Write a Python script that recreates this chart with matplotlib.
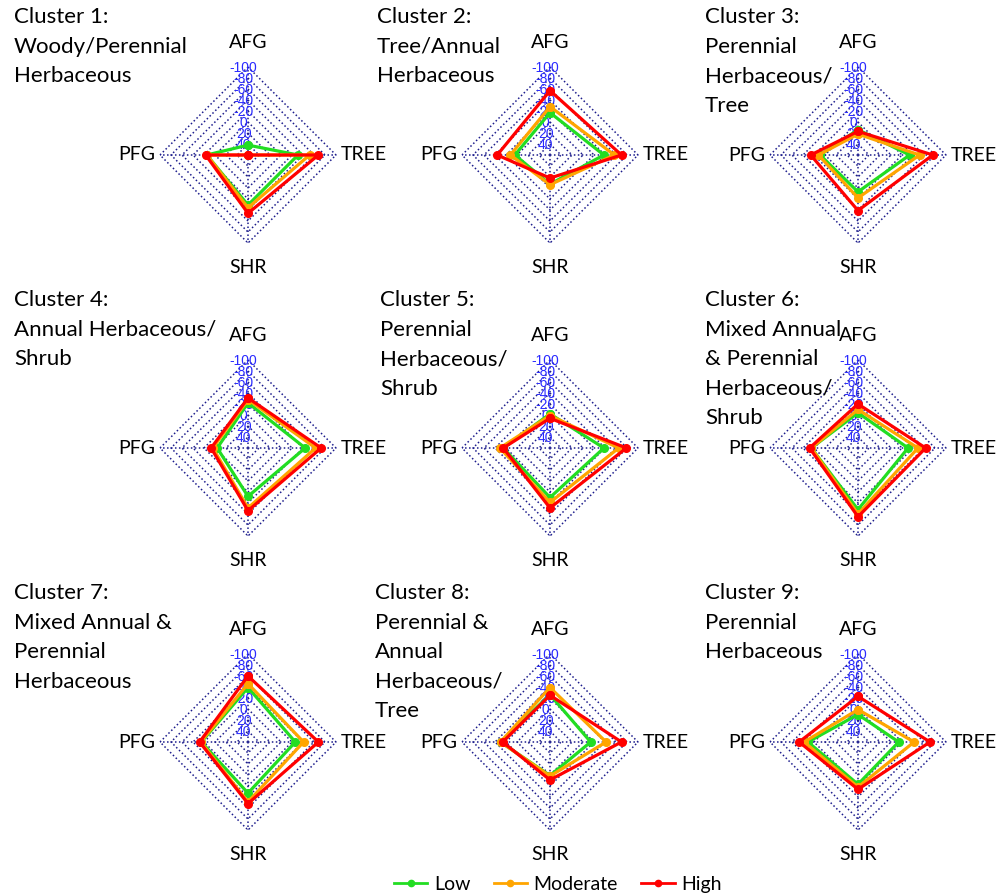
import numpy as np
import matplotlib.pyplot as plt
from matplotlib.lines import Line2D

# ---------------- data ----------------
axis_names = ["AFG", "TREE", "SHR", "PFG"]
tick_values = [40, 20, 0, -20, -40, -60, -80, -100]
tick_labels = ["40", "20", "0", "-20", "-40", "-60", "-80", "-100"]
center_value = 60      # value at the centre of each radar
outer_value = -100     # value at the outer ring

titles = [
    "Cluster 1:\nWoody/Perennial\nHerbaceous",
    "Cluster 2:\nTree/Annual\nHerbaceous",
    "Cluster 3:\nPerennial\nHerbaceous/\nTree",
    "Cluster 4:\nAnnual Herbaceous/\nShrub",
    "Cluster 5:\nPerennial\nHerbaceous/\nShrub",
    "Cluster 6:\nMixed Annual\n& Perennial\nHerbaceous/\nShrub",
    "Cluster 7:\nMixed Annual &\nPerennial\nHerbaceous",
    "Cluster 8:\nPerennial &\nAnnual\nHerbaceous/\nTree",
    "Cluster 9:\nPerennial\nHerbaceous",
]

# values per cluster, order: AFG, TREE, SHR, PFG
low = [
    [42, -31, -31, -15],
    [-17, -38, 7, -4],
    [14, -34, -7, -9],
    [-22, -44, -28, 4],
    [-2, -38, -30, -25],
    [-4, -31, -52, -25],
    [-39, -26, -33, -25],
    [-26, -14, -1, -30],
    [10, -14, -17, -31],
]
moderate = [
    [60, -52, -36, -15],
    [-28, -57, 6, -12],
    [22, -52, -18, -12],
    [-28, -63, -49, -4],
    [1, -65, -39, -31],
    [-10, -49, -60, -25],
    [-46, -41, -49, -26],
    [-39, -42, -2, -30],
    [1, -42, -22, -38],
]
high = [
    [60, -68, -46, -17],
    [-57, -70, 18, -36],
    [17, -76, -41, -26],
    [-31, -73, -54, -7],
    [6, -79, -49, -25],
    [-20, -63, -65, -28],
    [-60, -68, -52, -28],
    [-25, -70, -9, -26],
    [-23, -71, -26, -47],
]
series_names = ["Low", "Moderate", "High"]
series_values = [low, moderate, high]
series_colors = ["#22dd22", "#ffa500", "#ff0000"]

# ---------------- layout ----------------
W, H = 997, 896
fig = plt.figure(figsize=(W / 100, H / 100), dpi=100)
fig.patch.set_facecolor("white")

col_x = [248, 550, 858]
row_y = [155, 448, 742]
R = 88
S = 2.9 * R
title_pos = [(14, 7), (377, 7), (705, 7),
             (14, 290), (380, 290), (705, 290),
             (14, 583), (375, 583), (705, 583)]

angles = np.deg2rad([90, 0, -90, 180])
grid_col = "#1c1c8c"
title_font = "Lato"


def to_r(v):
    v = np.asarray(v, dtype=float)
    return (center_value - v) / (center_value - outer_value)


for idx in range(9):
    cx = col_x[idx % 3]
    cy = row_y[idx // 3]
    ax = fig.add_axes([(cx - S / 2) / W, 1 - (cy + S / 2) / H, S / W, S / H])
    ax.set_xlim(-1.45, 1.45)
    ax.set_ylim(-1.45, 1.45)
    ax.set_aspect("equal")
    ax.axis("off")

    # grid rings
    for tv in tick_values:
        rr = to_r(tv)
        xs = rr * np.cos(np.append(angles, angles[0]))
        ys = rr * np.sin(np.append(angles, angles[0]))
        ax.plot(xs, ys, color=grid_col, lw=1.1, ls=(0, (1, 1.6)), zorder=1)
    # spokes
    for a in angles:
        ax.plot([0, np.cos(a)], [0, np.sin(a)], color=grid_col, lw=1.1,
                ls=(0, (1, 1.6)), zorder=1)
    # tick labels
    for tv, tl in zip(tick_values, tick_labels):
        ax.text(-0.05, to_r(tv) - 0.015, tl, color="#2a2aff", fontsize=10,
                family="Liberation Sans", ha="center", va="center", zorder=2)

    # series
    for vals, col in zip(series_values, series_colors):
        rr = to_r(vals[idx])
        xs = rr * np.cos(angles)
        ys = rr * np.sin(angles)
        ax.plot(np.append(xs, xs[0]), np.append(ys, ys[0]), color=col,
                lw=2.3, marker="o", ms=5.5, zorder=3)

    # axis names
    fs_ax = 14
    ax.text(0, 1.28, axis_names[0], ha="center", va="center", fontsize=fs_ax,
            family=title_font)
    ax.text(1.05, 0, axis_names[1], ha="left", va="center", fontsize=fs_ax,
            family=title_font)
    ax.text(0, -1.28, axis_names[2], ha="center", va="center", fontsize=fs_ax,
            family=title_font)
    ax.text(-1.05, 0, axis_names[3], ha="right", va="center", fontsize=fs_ax,
            family=title_font)

    tx, ty = title_pos[idx]
    fig.text(tx / W, 1 - ty / H, titles[idx], ha="left", va="top",
             fontsize=16, family=title_font, linespacing=1.6)

handles = [Line2D([0], [0], color=c, lw=2.0, marker="o", ms=4.5)
           for c in series_colors]
fig.legend(handles, series_names, loc="center", ncol=3, frameon=False,
           bbox_to_anchor=(558 / W, 1 - 884 / H),
           handlelength=1.7, handletextpad=0.35, columnspacing=1.2,
           prop={"family": title_font, "size": 14})

fig.savefig("out.png", dpi=100, facecolor="white")
